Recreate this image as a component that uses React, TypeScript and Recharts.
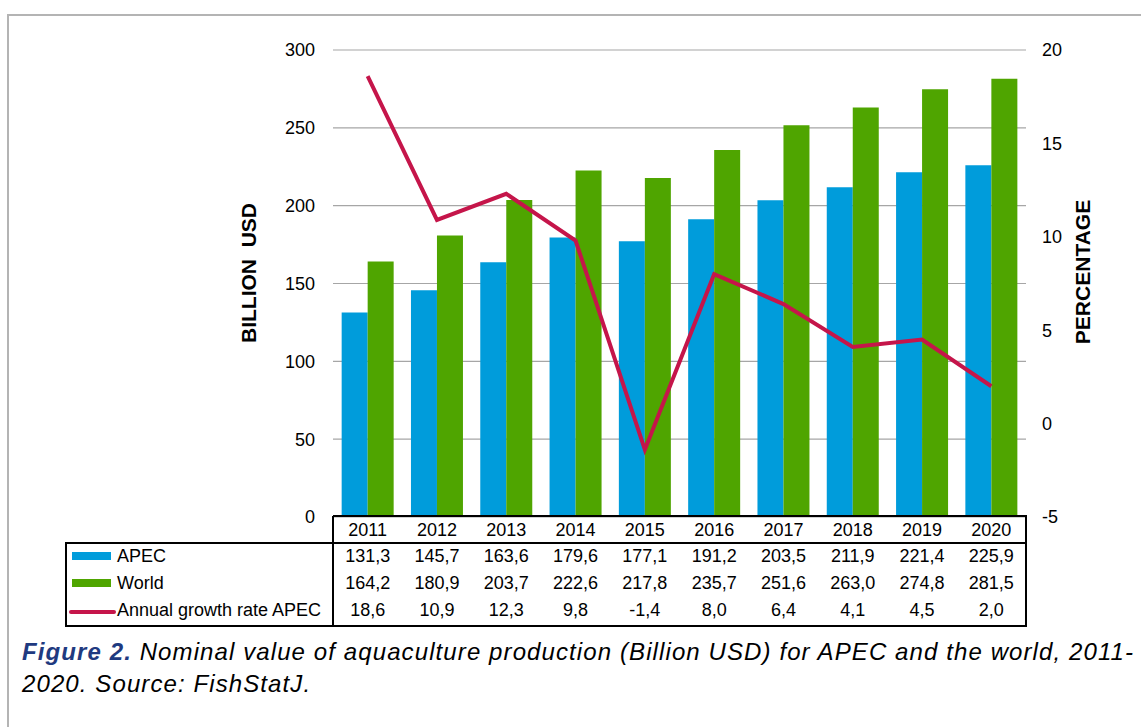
import { ComposedChart, Bar, Line, XAxis, YAxis, CartesianGrid } from 'recharts';

const years = ['2011', '2012', '2013', '2014', '2015', '2016', '2017', '2018', '2019', '2020'];
const apec = [131.3, 145.7, 163.6, 179.6, 177.1, 191.2, 203.5, 211.9, 221.4, 225.9];
const world = [164.2, 180.9, 203.7, 222.6, 217.8, 235.7, 251.6, 263.0, 274.8, 281.5];
const growth = [18.6, 10.9, 12.3, 9.8, -1.4, 8.0, 6.4, 4.1, 4.5, 2.0];
const usdTicks = [0, 50, 100, 150, 200, 250, 300];
const pctTicks = [-5, 0, 5, 10, 15, 20];

const FONT = '"Liberation Sans", Arial, sans-serif';
const BLUE = '#009CDB';
const GREEN = '#4FA500';
const RED = '#C5154A';

const data = years.map((year, i) => ({
  year,
  apec: apec[i],
  world: world[i],
  growth: growth[i],
}));

const fmt = (v: number) => v.toFixed(1).replace('.', ',');

// year row + the three data rows of the table, placed under each category
function TableTick({ x, payload }: any) {
  const i = years.indexOf(payload.value);
  const rows = [
    { y: 536, text: years[i] },
    { y: 562, text: fmt(apec[i]) },
    { y: 589, text: fmt(world[i]) },
    { y: 616, text: fmt(growth[i]) },
  ];
  return (
    <g>
      {rows.map((r, k) => (
        <text key={k} x={x} y={r.y} textAnchor="middle" fontSize={18} fontFamily={FONT} fill="#000">
          {r.text}
        </text>
      ))}
    </g>
  );
}

export default function App() {
  return (
    <div style={{ position: 'absolute', left: 0, top: 0, width: 1141, height: 727, overflow: 'hidden', background: '#fff' }}>
      <div style={{ position: 'absolute', left: 7, top: 14, width: 1200, height: 800, border: '2px solid #B4B4B4' }} />
      <div style={{ position: 'absolute', left: 0, top: 0 }}>
        <ComposedChart
          width={1141}
          height={727}
          data={data}
          margin={{ top: 50, right: 55, left: 253, bottom: 180 }}
          barCategoryGap="12.5%"
          barGap={0}
        >
          <CartesianGrid yAxisId="usd" vertical={false} stroke="#A6A6A6" strokeWidth={1.2} />
          <XAxis
            dataKey="year"
            height={30}
            axisLine={false}
            tickLine={false}
            interval={0}
            tick={<TableTick />}
          />
          <YAxis
            yAxisId="usd"
            orientation="left"
            width={80}
            domain={[0, 300]}
            ticks={usdTicks}
            axisLine={false}
            tickLine={false}
            tickMargin={12}
            tick={{ fontSize: 18, fill: '#000', fontFamily: FONT }}
          />
          <YAxis
            yAxisId="pct"
            orientation="right"
            width={60}
            domain={[-5, 20]}
            ticks={pctTicks}
            axisLine={false}
            tickLine={false}
            tickMargin={10}
            tick={{ fontSize: 18, fill: '#000', fontFamily: FONT }}
          />
          <Bar yAxisId="usd" dataKey="apec" fill={BLUE} isAnimationActive={false} />
          <Bar yAxisId="usd" dataKey="world" fill={GREEN} isAnimationActive={false} />
          <Line
            yAxisId="pct"
            dataKey="growth"
            type="linear"
            stroke={RED}
            strokeWidth={4}
            dot={false}
            isAnimationActive={false}
          />
        </ComposedChart>
      </div>
      <svg width={1141} height={727} style={{ position: 'absolute', left: 0, top: 0, pointerEvents: 'none' }}>
        <g stroke="#000" strokeWidth={2} fill="none">
          <path d="M333 516 H1026 V626 H66 V543 H1026 M333 516 V626" />
        </g>
        <rect x={72} y={552} width={39} height={8} fill={BLUE} />
        <rect x={72} y={579} width={39} height={8} fill={GREEN} />
        <line x1={71} y1={612} x2={114} y2={612} stroke={RED} strokeWidth={4} strokeLinecap="round" />
        <g fontSize={18} fontFamily={FONT} fill="#000">
          <text x={117} y={562}>APEC</text>
          <text x={117} y={589}>World</text>
          <text x={117} y={616}>Annual growth rate APEC</text>
        </g>
        <text
          transform="translate(256 273) rotate(-90)"
          textAnchor="middle"
          fontSize={21}
          fontWeight="bold"
          fontFamily={FONT}
          fill="#000"
          style={{ whiteSpace: 'pre' }}
        >
          {'BILLION  USD'}
        </text>
        <text
          transform="translate(1090 272) rotate(-90)"
          textAnchor="middle"
          fontSize={21}
          fontWeight="bold"
          fontFamily={FONT}
          fill="#000"
        >
          PERCENTAGE
        </text>
      </svg>
      <div
        style={{
          position: 'absolute',
          left: 22,
          top: 636,
          fontFamily: FONT,
          fontStyle: 'italic',
          fontSize: 24,
          letterSpacing: 1.1,
          lineHeight: '32px',
          color: '#000',
          whiteSpace: 'pre',
        }}
      >
        <span style={{ color: '#1F3A80', fontWeight: 'bold' }}>Figure 2.</span>
        {' Nominal value of aquaculture production (Billion USD) for APEC and the world, 2011-'}
        <br />
        {'2020. Source: FishStatJ.'}
      </div>
    </div>
  );
}
